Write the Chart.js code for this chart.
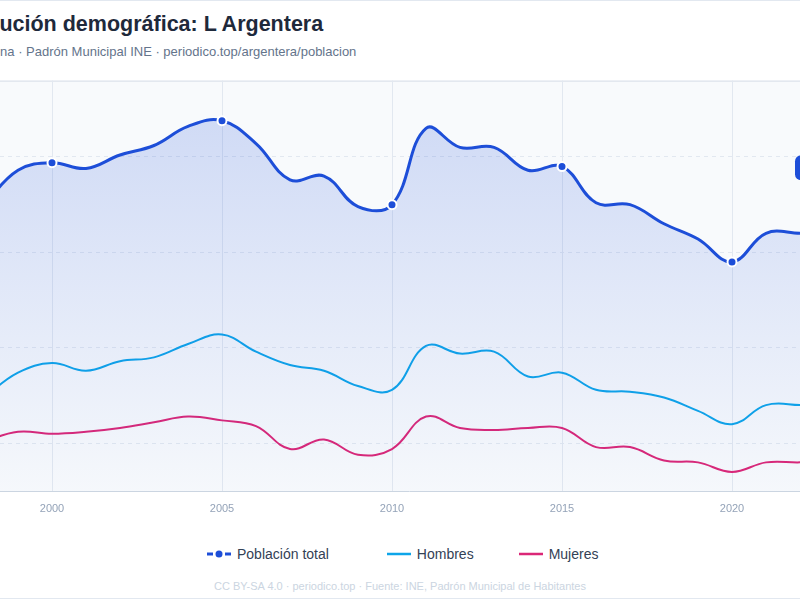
<!DOCTYPE html>
<html lang="es">
<head>
<meta charset="utf-8">
<title>Evolución demográfica: L Argentera</title>
<script src="https://cdn.jsdelivr.net/npm/chart.js@4.4.1/dist/chart.umd.min.js"></script>
<style>
  html, body {
    margin: 0;
    width: 800px;
    height: 600px;
    overflow: hidden;
    background: #ffffff;
    font-family: "Liberation Sans", Arial, sans-serif;
  }
  .card {
    position: absolute;
    left: -68px;
    top: 0;
    width: 936px;
    height: 599px;
    box-sizing: border-box;
    border: 1px solid #e2e8f0;
    background: #ffffff;
  }
  h1 {
    position: absolute;
    left: -46px;
    top: 11px;
    margin: 0;
    font-size: 21.5px;
    line-height: 26px;
    font-weight: 700;
    color: #1e293b;
    white-space: nowrap;
  }
  .subtitle {
    position: absolute;
    left: -44px;
    top: 44px;
    font-size: 13px;
    line-height: 16px;
    color: #64748b;
    white-space: nowrap;
  }
  #chart {
    position: absolute;
    left: -44px;
    top: 68px;
  }
  .legend {
    position: absolute;
    left: 207px;
    top: 544px;
    display: flex;
    font-size: 14px;
    line-height: 20px;
    color: #334155;
    white-space: nowrap;
  }
  .legend span.item {
    display: flex;
    align-items: center;
  }
  .legend span.total { margin-right: 58px; }
  .legend span.hombres { margin-right: 45px; }
  .legend svg { margin-right: 6px; }
  .footer {
    position: absolute;
    left: 0;
    top: 579px;
    width: 800px;
    text-align: center;
    font-size: 11px;
    line-height: 14px;
    color: #cbd5e1;
  }
</style>
</head>
<body>
<div class="card"></div>
<h1>Evolución demográfica: L Argentera</h1>
<div class="subtitle">Tarragona · Padrón Municipal INE · periodico.top/argentera/poblacion</div>
<canvas id="chart" width="924" height="453"></canvas>
<div class="legend">
  <span class="item total">
    <svg width="24" height="10"><line x1="0" y1="5" x2="6" y2="5" stroke="#1d4ed8" stroke-width="3"/><circle cx="12" cy="5" r="3.5" fill="#1d4ed8"/><line x1="18" y1="5" x2="24" y2="5" stroke="#1d4ed8" stroke-width="3"/></svg>Población total
  </span>
  <span class="item hombres">
    <svg width="24" height="10"><line x1="0" y1="5" x2="24" y2="5" stroke="#0ea5e9" stroke-width="2.5"/></svg>Hombres
  </span>
  <span class="item">
    <svg width="24" height="10"><line x1="0" y1="5" x2="24" y2="5" stroke="#db2777" stroke-width="2.5"/></svg>Mujeres
  </span>
</div>
<div class="footer">CC BY-SA 4.0 · periodico.top · Fuente: INE, Padrón Municipal de Habitantes</div>

<script>
const years = [1998, 1999, 2000, 2001, 2002, 2003, 2004, 2005, 2006, 2007, 2008, 2009, 2010,
  2011, 2012, 2013, 2014, 2015, 2016, 2017, 2018, 2019, 2020, 2021, 2022, 2023];

const poblacionTotal = [225, 243, 247, 244, 251, 256, 266, 269, 257, 238, 240, 224, 225,
  265, 255, 255, 243, 245, 226, 225, 215, 207, 195, 210, 210, 210];

const hombres = [124, 137, 142, 138, 143, 145, 152, 157, 148, 141, 138, 130, 128,
  151, 147, 148, 135, 137, 128, 127, 124, 117, 110, 120, 120, 119];

const mujeres = [101, 106, 105, 106, 108, 111, 114, 112, 109, 97, 102, 94, 97,
  114, 108, 107, 108, 108, 98, 98, 91, 90, 85, 90, 90, 91];

const yTickStep = 50;
const markEvery = 5;

Chart.defaults.font.family = '"Liberation Sans", Arial, sans-serif';

const plotBackground = {
  id: 'plotBackground',
  beforeDraw(chart) {
    const { ctx, chartArea } = chart;
    ctx.save();
    ctx.fillStyle = '#f8fafc';
    ctx.fillRect(chartArea.left, chartArea.top, chartArea.width, chartArea.height);
    ctx.strokeStyle = '#d5dce6';
    ctx.lineWidth = 1;
    ctx.beginPath();
    ctx.moveTo(chartArea.left, chartArea.top + 0.5);
    ctx.lineTo(chartArea.right, chartArea.top + 0.5);
    ctx.stroke();
    ctx.restore();
  },
};

// etiqueta con el último valor de la población
const lastValueTag = {
  id: 'lastValueTag',
  afterDatasetsDraw(chart) {
    const meta = chart.getDatasetMeta(0);
    const last = meta.data.length - 1;
    const point = meta.data[last];
    const { ctx } = chart;
    const w = 78;
    const h = 25;
    const x = point.x - w / 2;
    const y = point.y - 78;
    ctx.save();
    ctx.fillStyle = '#1d4ed8';
    ctx.beginPath();
    ctx.roundRect(x, y, w, h, 6);
    ctx.fill();
    ctx.fillStyle = '#ffffff';
    ctx.font = 'bold 12px "Liberation Sans", Arial, sans-serif';
    ctx.textAlign = 'center';
    ctx.textBaseline = 'middle';
    ctx.fillText(`${years[last]}: ${poblacionTotal[last]}`, point.x, y + h / 2);
    ctx.restore();
  },
};

new Chart(document.getElementById('chart'), {
  type: 'line',
  data: {
    labels: years,
    datasets: [
      {
        label: 'Población total',
        data: poblacionTotal,
        borderColor: '#1d4ed8',
        borderWidth: 3,
        tension: 0.4,
        fill: 'start',
        backgroundColor: (context) => {
          const { ctx, chartArea } = context.chart;
          if (!chartArea) return 'rgba(29, 78, 216, 0.1)';
          const gradient = ctx.createLinearGradient(0, chartArea.top, 0, chartArea.bottom);
          gradient.addColorStop(0, 'rgba(29, 78, 216, 0.20)');
          gradient.addColorStop(1, 'rgba(29, 78, 216, 0.01)');
          return gradient;
        },
        pointRadius: (context) => (years[context.dataIndex] % markEvery === 0 ? 4.5 : 0),
        pointBackgroundColor: '#1d4ed8',
        pointBorderColor: '#ffffff',
        pointBorderWidth: 2,
      },
      {
        label: 'Hombres',
        data: hombres,
        borderColor: '#0ea5e9',
        borderWidth: 2,
        tension: 0.4,
        fill: false,
        pointRadius: 0,
      },
      {
        label: 'Mujeres',
        data: mujeres,
        borderColor: '#db2777',
        borderWidth: 2,
        tension: 0.4,
        fill: false,
        pointRadius: 0,
      },
    ],
  },
  options: {
    responsive: false,
    animation: false,
    layout: { padding: { top: 0, right: 46, left: 0, bottom: 0 } },
    plugins: {
      legend: { display: false },
      tooltip: { enabled: false },
    },
    scales: {
      x: {
        grid: { color: '#e2e8f0', drawTicks: false },
        border: { display: true, color: '#cbd5e1' },
        ticks: {
          autoSkip: false,
          maxRotation: 0,
          padding: 11,
          color: '#94a3b8',
          font: { size: 11 },
          callback(value) {
            const year = this.getLabelForValue(value);
            return year % markEvery === 0 ? String(year) : null;
          },
        },
        afterFit(axis) {
          axis.height = 30;
        },
      },
      y: {
        min: 75,
        max: 290,
        grid: { color: '#e2e8f0', drawTicks: false },
        border: { display: false, dash: [4, 4] },
        ticks: {
          stepSize: yTickStep,
          padding: 6,
          color: '#94a3b8',
          font: { size: 11 },
          callback: (value) => (value % yTickStep === 0 ? value : null),
        },
        afterFit(axis) {
          axis.width = 28;
        },
      },
    },
  },
  plugins: [plotBackground, lastValueTag],
});
</script>
</body>
</html>
